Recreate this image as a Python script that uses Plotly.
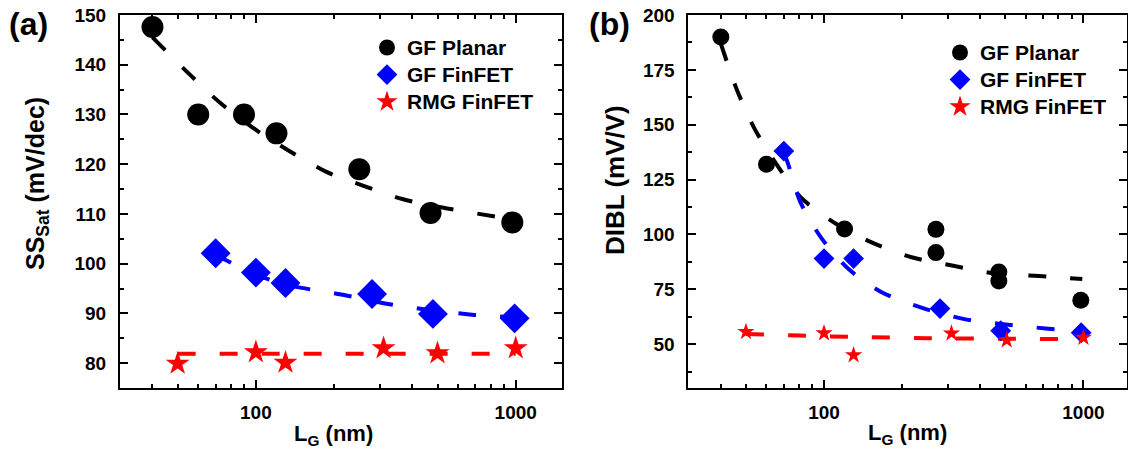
import plotly.graph_objects as go

# ---------------- data ----------------
# Panel (a): SS_sat (mV/dec) vs L_G (nm)
a_planar_x = [40, 60, 90, 120, 250, 470, 970]
a_planar_y = [147.6, 130, 130, 126.2, 119.0, 110.2, 108.3]
a_fin_x = [70, 100, 130, 280, 480, 990]
a_fin_y = [102.1, 98.2, 96.1, 93.9, 89.9, 89.0]
a_rmg_x = [50, 100, 130, 310, 500, 1000]
a_rmg_y = [79.9, 82.2, 80.1, 83.0, 82.0, 83.0]

a_planar_fit_x = [40, 56, 73, 100, 134, 186, 258, 366, 545, 832, 970]
a_planar_fit_y = [145.5, 137.9, 132.3, 126.9, 122.7, 118.5, 115.7, 113.0, 111.1, 109.5, 109.0]
a_fin_fit_x = [70, 75.5, 100, 130, 223, 322, 480, 693, 1000]
a_fin_fit_y = [102.0, 100.9, 97.8, 95.8, 93.6, 91.9, 90.6, 89.7, 89.2]
a_rmg_fit_x = [50, 1000]
a_rmg_fit_y = [81.9, 81.9]

# Panel (b): DIBL (mV/V) vs L_G (nm)
b_planar_x = [40, 60, 120, 270, 270, 472, 472, 977]
b_planar_y = [190, 132, 102.5, 102.3, 91.7, 82.9, 78.8, 70.0]
b_fin_x = [70, 100, 130, 280, 480, 980]
b_fin_y = [138, 89, 89, 66.2, 56.1, 55.2]
b_rmg_x = [50, 100, 130, 310, 506, 1000]
b_rmg_y = [55.6, 55, 45, 54.9, 51.8, 53.0]

b_planar_fit_x = [40, 46, 54, 66, 81, 106, 151, 216, 315, 456, 675, 990]
b_planar_fit_y = [187, 166.3, 148.1, 131.5, 117.1, 106.4, 96.6, 89.7, 85.7, 82.2, 81.0, 79.7]
b_fin_fit_x = [70, 73, 81, 98, 125, 166, 239, 344, 480, 733, 1000]
b_fin_fit_y = [137.5, 131.5, 114.8, 98.1, 84.0, 73.8, 66.5, 61.5, 59.2, 57.0, 55.5]
b_rmg_fit_x = [50, 80, 140, 250, 800, 1000]
b_rmg_fit_y = [54.6, 53.9, 53.2, 52.7, 52.3, 52.2]

series_names = ["GF Planar", "GF FinFET", "RMG FinFET"]
x_major_ticks = [100, 1000]
x_minor_ticks = [30, 40, 50, 60, 70, 80, 90, 200, 300, 400, 500, 600, 700, 800, 900]
a_y_ticks = [80, 90, 100, 110, 120, 130, 140, 150]
b_y_ticks = [50, 75, 100, 125, 150, 175, 200]

# ---------------- styling ----------------
W, H = 1128, 457
FONT = "Liberation Sans, Arial, Helvetica, sans-serif"
BLACK, BLUE, RED = "#000000", "#0000FF", "#FF0000"
DASH = "18px,24px"
COLORS = [BLACK, BLUE, RED]
SYMBOLS = ["circle", "diamond", "star"]

fig = go.Figure()

def add_fit(x, y, color, xa, ya):
    fig.add_trace(go.Scatter(x=x, y=y, mode="lines", xaxis=xa, yaxis=ya,
                             line=dict(color=color, width=4, dash=DASH, shape="spline", smoothing=0.8),
                             showlegend=False, hoverinfo="skip"))

def add_pts(x, y, name, color, symbol, size, xa, ya):
    fig.add_trace(go.Scatter(x=x, y=y, mode="markers", name=name, xaxis=xa, yaxis=ya,
                             marker=dict(color=color, symbol=symbol, size=size, line=dict(width=0)),
                             showlegend=False))

def add_legend_entry(name, color, symbol, xa, ya, legend):
    # legend-only entry (no data points) so both legends get equal symbol sizes
    fig.add_trace(go.Scatter(x=[None], y=[None], mode="markers",
                             name='<span style="font-size:21px">' + name + '</span>',
                             xaxis=xa, yaxis=ya,
                             marker=dict(color=color, symbol=symbol, size=16, line=dict(width=0)),
                             legend=legend, showlegend=True))

# panel a
add_fit(a_planar_fit_x, a_planar_fit_y, BLACK, "x", "y")
add_fit(a_fin_fit_x, a_fin_fit_y, BLUE, "x", "y")
add_fit(a_rmg_fit_x, a_rmg_fit_y, RED, "x", "y")
add_pts(a_planar_x, a_planar_y, series_names[0], BLACK, "circle", 22, "x", "y")
add_pts(a_fin_x, a_fin_y, series_names[1], BLUE, "diamond", 23, "x", "y")
add_pts(a_rmg_x, a_rmg_y, series_names[2], RED, "star", 18, "x", "y")

# panel b
add_fit(b_planar_fit_x, b_planar_fit_y, BLACK, "x2", "y2")
add_fit(b_fin_fit_x, b_fin_fit_y, BLUE, "x2", "y2")
add_fit(b_rmg_fit_x, b_rmg_fit_y, RED, "x2", "y2")
add_pts(b_planar_x, b_planar_y, series_names[0], BLACK, "circle", 17, "x2", "y2")
add_pts(b_fin_x, b_fin_y, series_names[1], BLUE, "diamond", 16, "x2", "y2")
add_pts(b_rmg_x, b_rmg_y, series_names[2], RED, "star", 13, "x2", "y2")

for n, c, s in zip(series_names, COLORS, SYMBOLS):
    add_legend_entry(n, c, s, "x", "y", "legend")
for n, c, s in zip(series_names, COLORS, SYMBOLS):
    add_legend_entry(n, c, s, "x2", "y2", "legend2")

ydom = [1 - 388 / H, 1 - 15 / H]

def xaxis_cfg(dom, rng):
    return dict(domain=dom, type="log", range=rng, tickmode="array", tickvals=x_major_ticks,
                ticktext=[str(v) for v in x_major_ticks],
                ticks="inside", ticklen=8, tickwidth=2, tickcolor="black",
                showline=True, linewidth=2, linecolor="black", mirror="allticks",
                showgrid=False, zeroline=False, automargin=False, ticklabelstandoff=6,
                tickfont=dict(family=FONT, size=19, color="black", weight="bold"),
                minor=dict(ticks="inside", ticklen=4, tickwidth=2, tickcolor="black",
                           tickmode="array", tickvals=x_minor_ticks, showgrid=False))

def yaxis_cfg(anchor, rng, tickvals, minor_dtick):
    return dict(domain=ydom, anchor=anchor, range=rng, tickmode="array", tickvals=tickvals,
                ticks="inside", ticklen=8, tickwidth=2, tickcolor="black",
                showline=True, linewidth=2, linecolor="black", mirror="allticks",
                showgrid=False, zeroline=False, automargin=False, ticklabelstandoff=8,
                tickfont=dict(family=FONT, size=19, color="black", weight="bold"),
                minor=dict(ticks="inside", ticklen=4, tickwidth=2, tickcolor="black",
                           dtick=minor_dtick, tick0=0, showgrid=False))

def px(x, y):
    return x / W, 1 - y / H

annotations = []
def ann(text, x, y, size, angle=0):
    ax, ay = px(x, y)
    annotations.append(dict(text=text, x=ax, y=ay, xref="paper", yref="paper",
                            xanchor="center", yanchor="middle", showarrow=False, textangle=angle,
                            font=dict(family=FONT, size=size, color="black", weight="bold")))

ann("(a)", 28, 24, 32)
ann("(b)", 609, 24, 32)
ann("SS<sub>Sat</sub> (mV/dec)", 37, 184, 25, -90)
ann("DIBL (mV/V)", 615, 180, 26, -90)
ann("L<sub>G</sub> (nm)", 333, 435, 22)
ann("L<sub>G</sub> (nm)", 907, 434, 22)

leg_font = dict(family=FONT, size=18.5, color="black", weight="bold")
lx1, ly1 = px(367, 29)
lx2, ly2 = px(940, 34)

fig.update_layout(
    width=W, height=H,
    margin=dict(l=0, r=0, t=0, b=0),
    paper_bgcolor="white", plot_bgcolor="white",
    font=dict(family=FONT, color="black", weight="bold"),
    xaxis=xaxis_cfg([120 / W, 561.5 / W], [1.4771, 3.1761]) | dict(anchor="y"),
    yaxis=yaxis_cfg("x", [75, 150], a_y_ticks, 5),
    xaxis2=xaxis_cfg([688.4 / W, 1127 / W], [1.4771, 3.168]) | dict(anchor="y2"),
    yaxis2=yaxis_cfg("x2", [30, 200], b_y_ticks, 12.5),
    legend=dict(x=lx1, y=ly1, xanchor="left", yanchor="top", font=leg_font,
                bgcolor="rgba(0,0,0,0)", borderwidth=0, tracegroupgap=0, itemsizing="trace"),
    legend2=dict(x=lx2, y=ly2, xanchor="left", yanchor="top", font=leg_font,
                 bgcolor="rgba(0,0,0,0)", borderwidth=0, tracegroupgap=0, itemsizing="trace"),
    annotations=annotations,
    showlegend=True,
)

fig.write_html("out.html", config={"displayModeBar": False},
               post_script="document.body.style.margin='0';document.body.style.overflow='hidden';")
